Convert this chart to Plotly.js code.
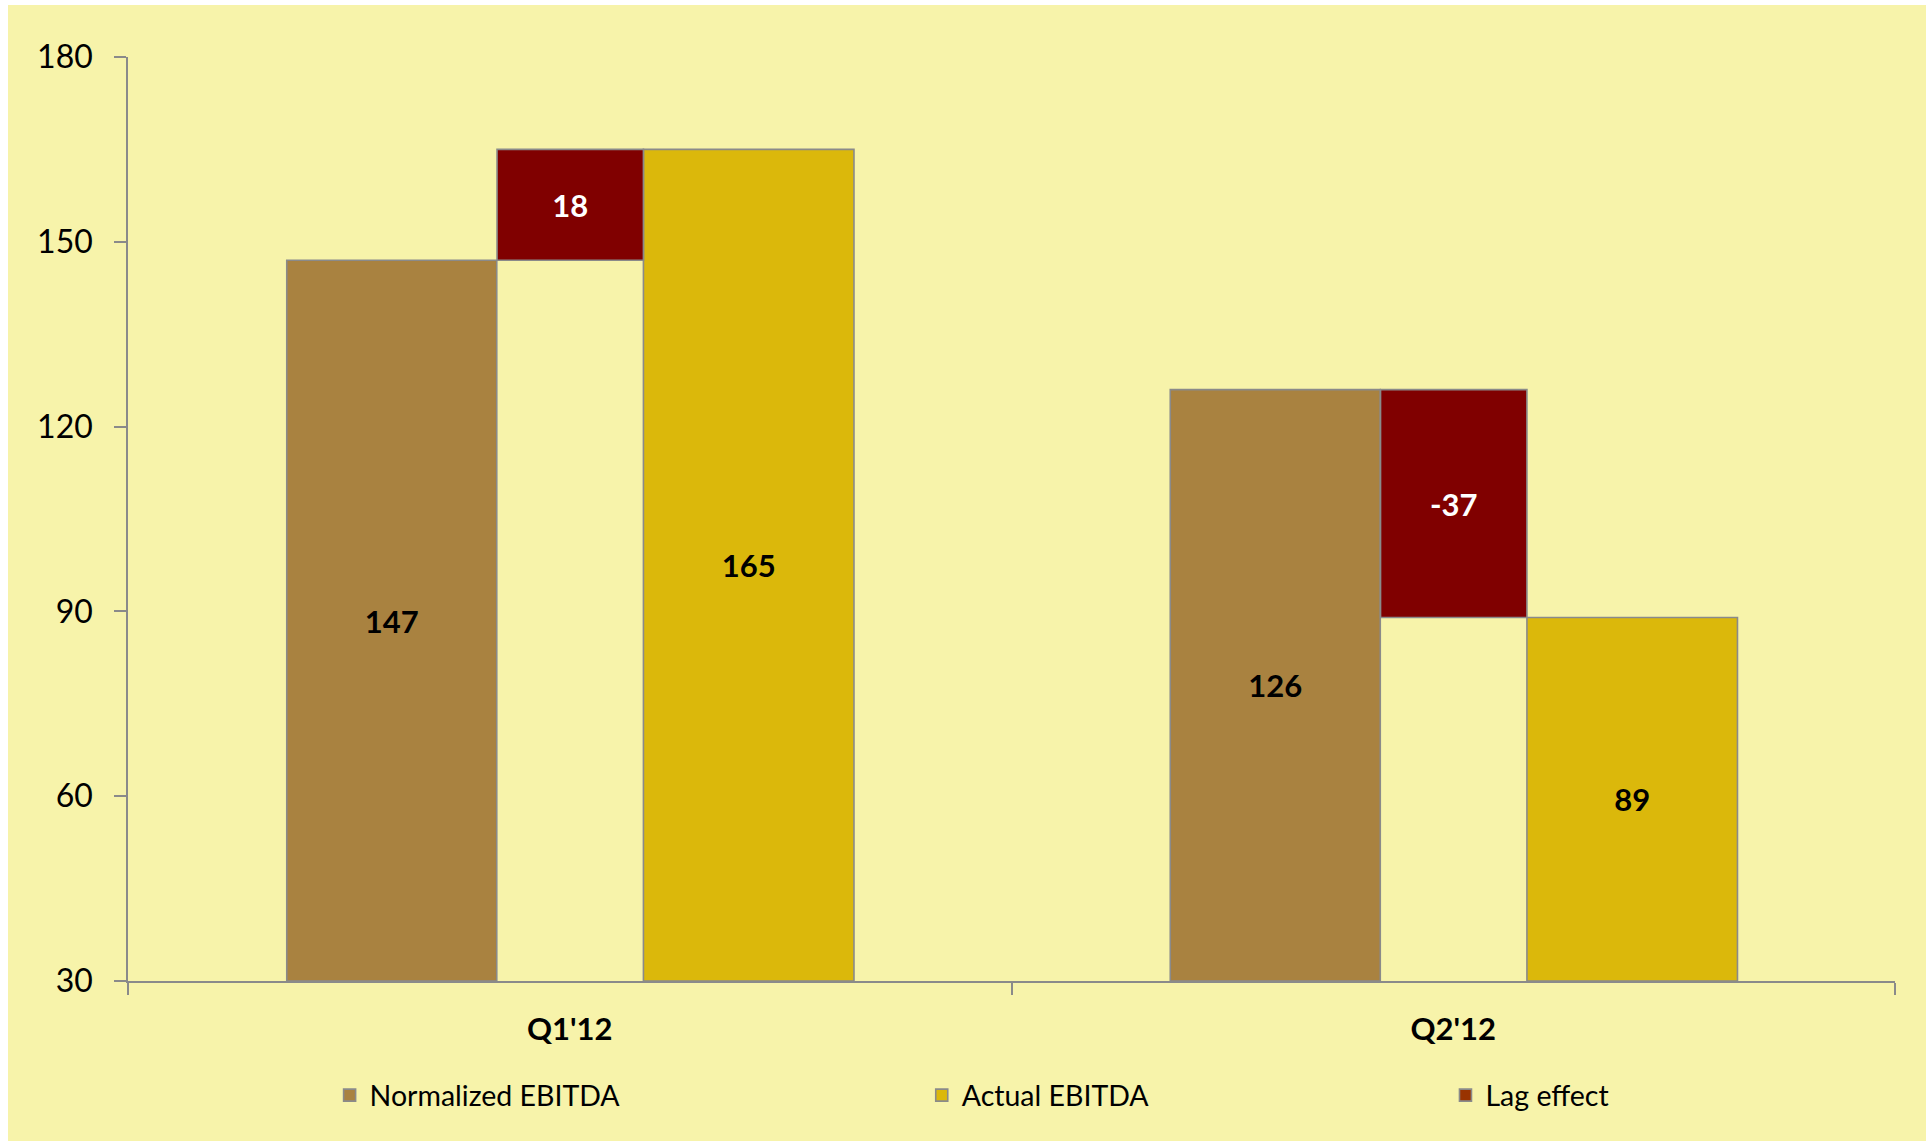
<!DOCTYPE html>
<html><head><meta charset="utf-8">
<script src="https://cdn.plot.ly/plotly-3.0.1.min.js"></script>
<style>html,body{margin:0;padding:0;background:#fff;} #chart{position:absolute;left:8px;top:5px;width:1918px;height:1136px;}</style>
</head><body><div id="chart"></div>
<script>
const categories = ["Q1'12", "Q2'12"];
const normalizedEBITDA = [147, 126];
const actualEBITDA = [165, 89];
const lagEffect = [18, -37];
const yTickValues = [30, 60, 90, 120, 150, 180];
const axisMin = 30;

const FONT = "Lato, 'Open Sans', sans-serif";
const EDGE = {color: '#8a8a8a', width: 1.6};

const traces = [
  {
    type: 'bar', name: 'Normalized EBITDA', x: categories,
    base: axisMin, y: normalizedEBITDA.map(v => v - axisMin),
    text: normalizedEBITDA.map(String), textposition: 'inside', insidetextanchor: 'middle',
    textfont: {family: FONT, size: 31, color: '#000', weight: 'bold'},
    width: 0.2377, offset: -0.3203,
    marker: {color: '#A98240', line: EDGE},
    legend: 'legend', hoverinfo: 'skip'
  },
  {
    type: 'bar', name: 'Actual EBITDA', x: categories,
    base: axisMin, y: actualEBITDA.map(v => v - axisMin),
    text: actualEBITDA.map(String), textposition: 'inside', insidetextanchor: 'middle',
    textfont: {family: FONT, size: 31, color: '#000', weight: 'bold'},
    width: 0.2383, offset: 0.0834,
    marker: {color: '#DBB80B', line: EDGE},
    legend: 'legend2', hoverinfo: 'skip'
  },
  {
    type: 'bar', name: 'Lag effect', x: categories,
    base: normalizedEBITDA, y: lagEffect,
    text: lagEffect.map(String), textposition: 'inside', insidetextanchor: 'middle',
    textfont: {family: FONT, size: 31, color: '#fff', weight: 'bold'},
    width: 0.1657, offset: -0.0823,
    marker: {color: '#800000', line: EDGE},
    showlegend: false, hoverinfo: 'skip'
  },
  {
    type: 'bar', name: 'Lag effect', x: [categories[0]], y: [null],
    marker: {color: '#993300', line: EDGE},
    legend: 'legend3', showlegend: true, hoverinfo: 'skip'
  }
];

const legendBase = {
  orientation: 'h', yanchor: 'middle', xanchor: 'left', y: -0.124,
  bgcolor: 'rgba(0,0,0,0)', borderwidth: 0,
  font: {family: FONT, size: 28.5, color: '#000'}
};

const layout = {
  width: 1918, height: 1136,
  paper_bgcolor: '#F7F3AA', plot_bgcolor: '#F7F3AA',
  margin: {l: 120, r: 31, t: 52, b: 160},
  barmode: 'overlay',
  showlegend: true,
  font: {family: FONT, color: '#000'},
  xaxis: {
    type: 'category', range: [-0.5, 1.5], tickson: 'boundaries',
    ticks: 'outside', ticklen: 12, tickwidth: 1.6, tickcolor: '#8a8a8a',
    showline: true, linecolor: '#8a8a8a', linewidth: 1.6,
    showgrid: false, zeroline: false,
    tickfont: {family: FONT, size: 31, color: '#000', weight: 'bold'},
    ticklabelstandoff: 20
  },
  yaxis: {
    range: [30, 180], tickvals: yTickValues, ticktext: yTickValues.map(String),
    ticks: 'outside', ticklen: 12, tickwidth: 1.6, tickcolor: '#8a8a8a',
    showline: true, linecolor: '#8a8a8a', linewidth: 1.6,
    showgrid: false, zeroline: false,
    tickfont: {family: FONT, size: 32, color: '#000'},
    ticklabelstandoff: 15
  },
  legend: Object.assign({}, legendBase, {x: 0.1141}),
  legend2: Object.assign({}, legendBase, {x: 0.4492}),
  legend3: Object.assign({}, legendBase, {x: 0.7456})
};

Plotly.newPlot('chart', traces, layout, {displayModeBar: false, responsive: false});
</script>
</body></html>
